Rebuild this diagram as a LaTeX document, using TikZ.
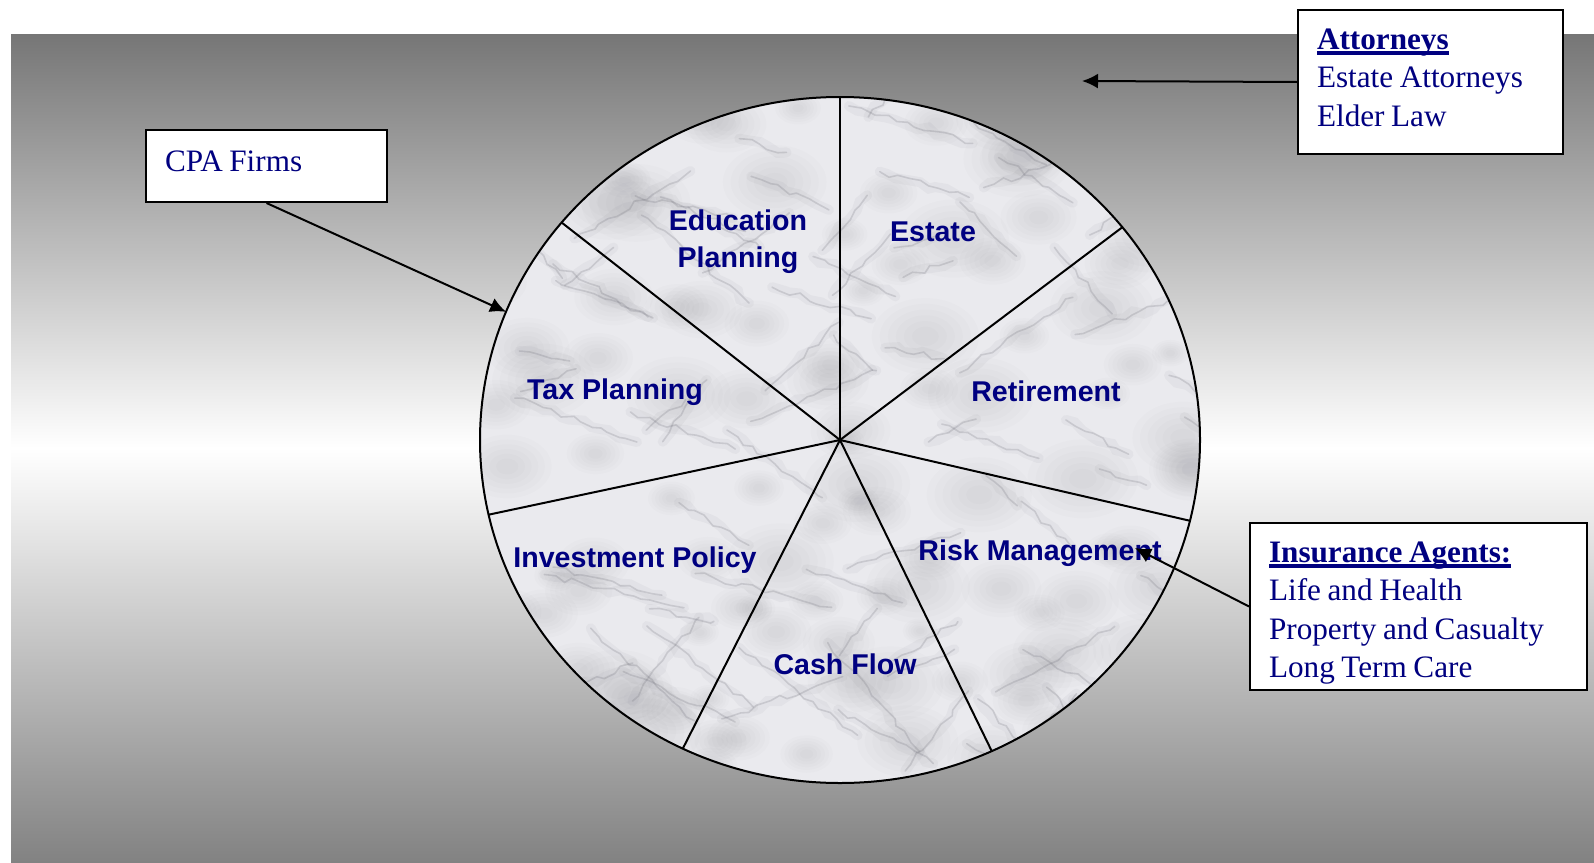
\documentclass[tikz,border=0pt]{standalone}
\usepackage{fontspec}
\setmainfont{Liberation Serif}
\setsansfont{Liberation Sans}
\usepackage{tikz}
\usetikzlibrary{shapes.geometric}
\usetikzlibrary{arrows.meta}
\usetikzlibrary{decorations.pathmorphing}

\definecolor{navyblue}{RGB}{0,0,128}
\definecolor{bggray}{RGB}{118,118,118}
\definecolor{bggraylow}{RGB}{130,130,130}
\definecolor{marble}{RGB}{234,234,238}
\definecolor{veingray}{RGB}{110,110,120}

% bold heading with a heavy rule under it
\newcommand{\boxhead}[1]{\setbox0\hbox{\textbf{#1}}\rlap{\rule[-2.8pt]{\wd0}{1.6pt}}\box0}

\begin{document}
\begin{tikzpicture}[x=0.5pt,y=-0.5pt,>={Latex[length=8pt,width=7.5pt]},line width=1pt,
    firm box/.style={draw,fill=white,anchor=north west,align=left,inner xsep=9.5pt,inner ysep=0pt,
        text=navyblue,font=\fontsize{15.6}{19.3}\selectfont,
        execute at begin node={\spaceskip=3.3pt\relax}},
    slice label/.style={text=navyblue,font=\sffamily\bfseries\fontsize{14.3}{18.5}\selectfont},
    vein/.style={draw=veingray,line cap=round,decorate,
        decoration={random steps,segment length=5pt,amplitude=1.5pt}}]

  \useasboundingbox (0,0) rectangle (1594,862);
  \shade[top color=bggray,bottom color=bggraylow,middle color=white] (11,34) rectangle (1594,862);

  % marble pie
  \node[ellipse,draw,fill=marble,minimum width=360pt,minimum height=343pt,inner sep=0pt,outer sep=0pt,
        path picture={
          \begin{scope}[shift={(path picture bounding box.center)}]
            \pgfmathsetseed{31}
            \foreach \i in {1,...,110}{
              \pgfmathsetmacro{\bx}{360*rand}
              \pgfmathsetmacro{\by}{345*rand}
              \pgfmathsetmacro{\br}{6+14*rnd}
              \foreach \s in {1,.85,.7,.55,.4,.25}
                \fill[veingray,opacity=.022] (\bx,\by) ellipse[x radius=1.4*\s*\br pt,y radius=\s*\br pt];
            }
            \foreach \i in {1,...,90}{
              \pgfmathsetmacro{\vx}{360*rand}
              \pgfmathsetmacro{\vy}{345*rand}
              \pgfmathsetmacro{\va}{ifthenelse(rnd>0.4,30+20*rand,-35+20*rand)}
              \pgfmathsetmacro{\vl}{40+110*rnd}
              \draw[vein,line width=5pt,opacity=.06] (\vx,\vy) -- ++(\va:\vl);
              \draw[vein,line width=.8pt,opacity=.22] (\vx,\vy) -- ++(\va:\vl);
            }
          \end{scope}}] (pie) at (840,440) {};

  \foreach \ang in {90,37.2,347.8,296.6,243.4,192.2,142.3}
    \draw (pie.center) -- (pie.\ang);

  \node[slice label,align=center] (edu) at (738,242) {Education\\Planning};
  \node[slice label,anchor=base] (estate) at (933,241) {Estate};
  \node[slice label,anchor=base] (ret) at (1046,401) {Retirement};
  \node[slice label,anchor=base] (risk) at (1040,560) {Risk Management};
  \node[slice label,anchor=base] (cash) at (845,674) {Cash Flow};
  \node[slice label,anchor=base] (invest) at (635,567) {Investment Policy};
  \node[slice label,anchor=base] (tax) at (615,399) {Tax Planning};

  \node[firm box,text width=101.5pt,text height=20.5pt,text depth=15.5pt] (cpa) at (145,129) {CPA Firms};
  \node[firm box,text width=113.5pt,text height=19.5pt,text depth=52.5pt] (att) at (1297,9)
    {\boxhead{Attorneys}\\Estate Attorneys\\Elder Law};
  \node[firm box,text width=149.5pt,text height=19.5pt,text depth=64pt] (ins) at (1249,522)
    {\boxhead{Insurance Agents:}\\Life and Health\\Property and Casualty\\Long Term Care};

  \coordinate (att tip) at (1082,81);
  \coordinate (ins tip) at (1135,548);

  \path[->]
    (cpa.south) edge (pie.159)
    (att.west) edge (att tip)
    (ins.west) edge (ins tip);

\end{tikzpicture}
\end{document}
